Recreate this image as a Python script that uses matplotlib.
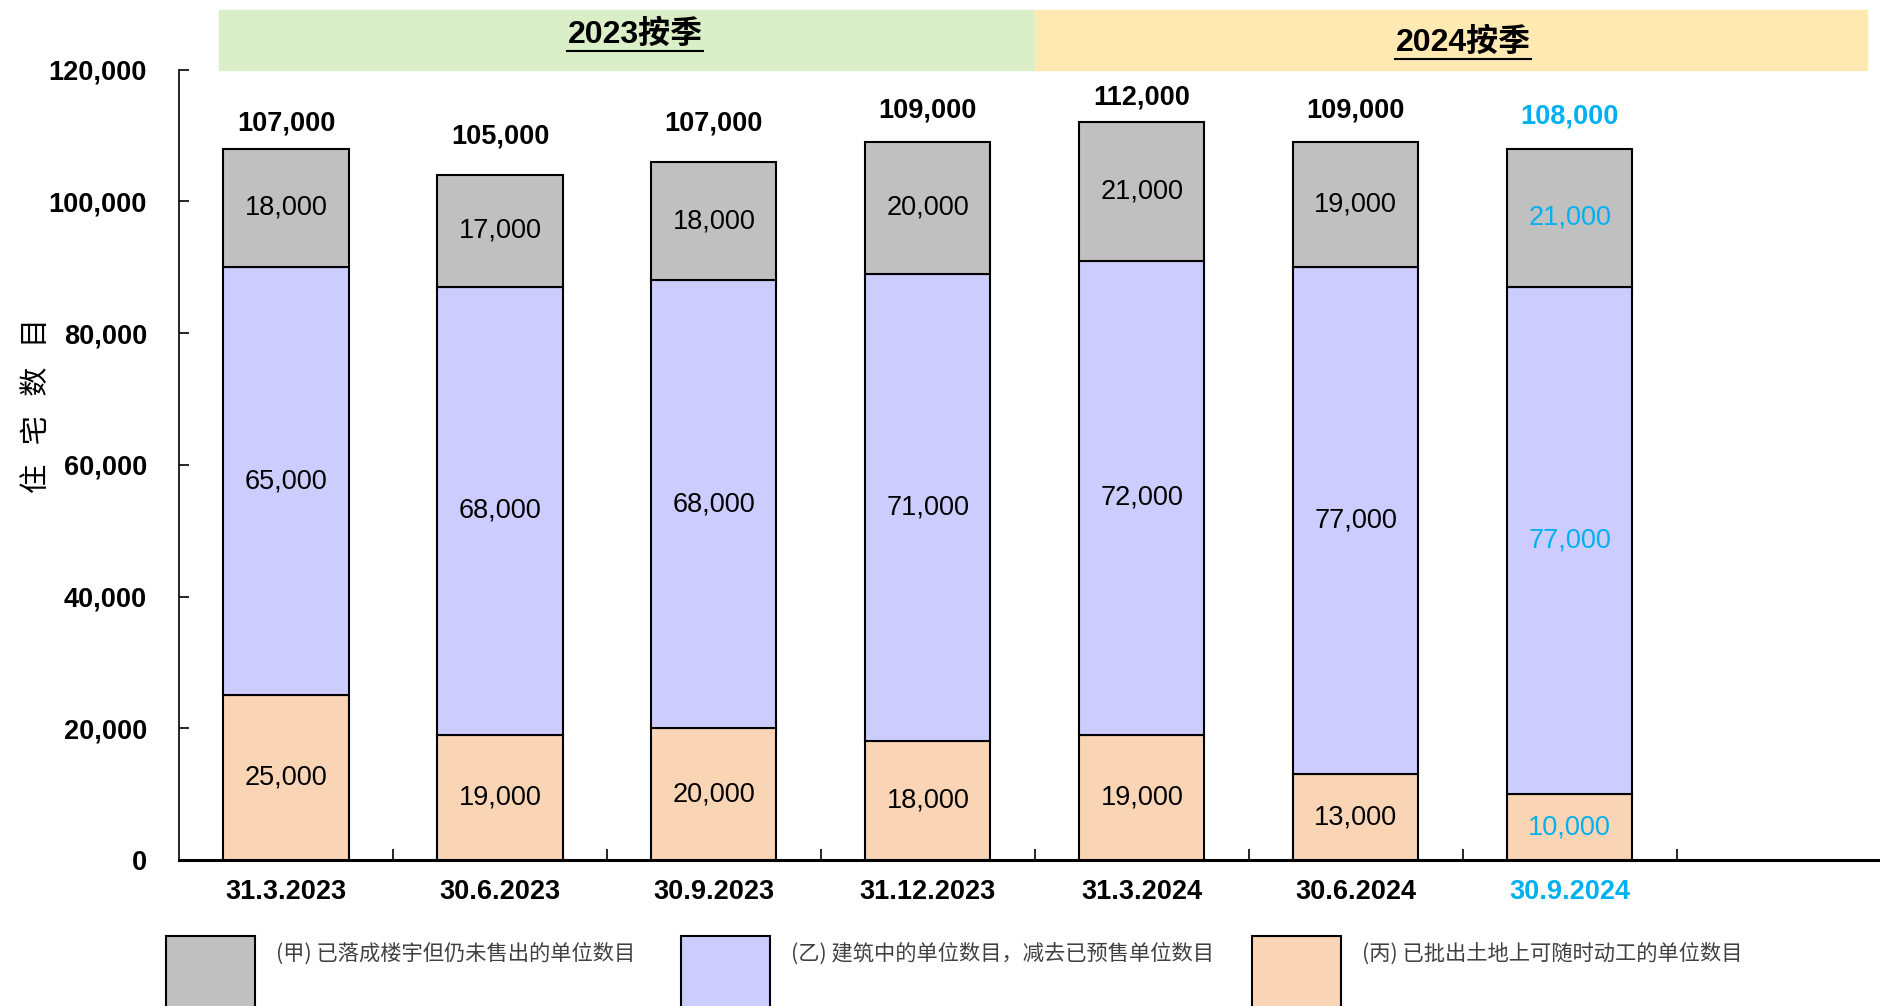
import matplotlib
matplotlib.use("Agg")
import matplotlib.pyplot as plt
from matplotlib.patches import Rectangle
from matplotlib.lines import Line2D
import numpy as np

# --- data ---
dates = ["31.3.2023", "30.6.2023", "30.9.2023", "31.12.2023",
         "31.3.2024", "30.6.2024", "30.9.2024"]
unsold   = [18000, 17000, 18000, 20000, 21000, 19000, 21000]   # (甲)
building = [65000, 68000, 68000, 71000, 72000, 77000, 77000]   # (乙)
land     = [25000, 19000, 20000, 18000, 19000, 13000, 10000]   # (丙)
totals   = [107000, 105000, 107000, 109000, 112000, 109000, 108000]
legend_labels = ["(甲) 已落成楼宇但仍未售出的单位数目",
                 "(乙) 建筑中的单位数目，减去已预售单位数目",
                 "(丙) 已批出土地上可随时动工的单位数目"]
periods = ["2023按季", "2024按季"]

C_GRAY, C_PURP, C_PEACH = "#C0C0C0", "#CCCCFF", "#F9D5B6"
BLUE = "#00B0F0"
LATIN = ["Liberation Sans", "Noto Sans CJK SC"]
CJK = ["Noto Sans CJK SC", "DejaVu Sans"]
FS = 19.5

W, H = 1880, 1006
fig = plt.figure(figsize=(W / 100, H / 100), dpi=100)
ax = fig.add_axes([179 / W, 1 - 860 / H, (W - 179) / W, (860 - 69.5) / H])

x = np.arange(len(dates))
bw = 0.585
land_a, build_a, unsold_a = map(np.array, (land, building, unsold))
kw = dict(width=bw, edgecolor="black", linewidth=1.5, zorder=3)
ax.bar(x, land_a, color=C_PEACH, **kw)
ax.bar(x, build_a, bottom=land_a, color=C_PURP, **kw)
ax.bar(x, unsold_a, bottom=land_a + build_a, color=C_GRAY, **kw)

# segment labels + totals
for i in x:
    col = BLUE if i == len(dates) - 1 else "black"
    for bottom, h in [(0, land_a[i]), (land_a[i], build_a[i]),
                      (land_a[i] + build_a[i], unsold_a[i])]:
        ax.text(i, bottom + h / 2, f"{h:,}", ha="center", va="center",
                fontsize=FS, color=col, family=LATIN, zorder=4)
    ax.text(i, min(totals[i] + 4800, 115700), f"{totals[i]:,}", ha="center",
            va="center", fontsize=FS, fontweight="bold", color=col,
            family=LATIN, clip_on=False)

ax.set_xlim(-0.5, 7.45)
ax.set_ylim(0, 120000)
ax.set_yticks(np.arange(0, 120001, 20000))
ax.set_yticklabels([f"{v:,}" for v in range(0, 120001, 20000)],
                   fontsize=FS, fontweight="bold", family=LATIN)
ax.tick_params(axis="y", direction="in", length=7, width=1.2, pad=23)
ax.set_xticks(np.arange(0.5, 7, 1))
ax.set_xticklabels([])
ax.tick_params(axis="x", which="major", direction="in", length=8, width=1.2)
ax.set_xticks(x, minor=True)
ax.set_xticklabels(dates, minor=True, fontsize=FS, fontweight="bold",
                   family=LATIN)
ax.tick_params(axis="x", which="minor", length=0, pad=14)
ax.get_xticklabels(minor=True)[-1].set_color(BLUE)
for s in ["top", "right"]:
    ax.spines[s].set_visible(False)
ax.spines["left"].set_linewidth(1.2)
ax.spines["bottom"].set_linewidth(2.2)

fig.text(37 / W, 1 - 406 / H, "住   宅   数   目", rotation=90, ha="center",
         va="center", fontsize=21, family=CJK)

# header bands
bands = [(219, 1035, "#DAEEC8"), (1035, 1867, "#FFE9B3")]
for x0, x1, c in bands:
    fig.patches.append(Rectangle((x0 / W, 1 - 70 / H), (x1 - x0) / W, 60 / H,
                                 transform=fig.transFigure, color=c, zorder=0))
hdr = []
for (cx, cy), t in zip([(635, 35), (1463, 43)], periods):
    hdr.append(fig.text(cx / W, 1 - cy / H, t, ha="center", va="center",
                        fontsize=23, fontweight="bold", family=LATIN))

# legend (drawn manually)
leg = [(166, 276, C_GRAY), (681, 791, C_PURP), (1252, 1362, C_PEACH)]
for (px, tx, c), lab in zip(leg, legend_labels):
    fig.patches.append(Rectangle((px / W, -0.05), 89 / W, (1006 - 936) / H + 0.05,
                                 transform=fig.transFigure, facecolor=c,
                                 edgecolor="black", linewidth=1.5))
    fig.text(tx / W, 1 - 954 / H, lab, ha="left", va="center", fontsize=15.3,
             color="#404040", family=CJK)

# underline headers
fig.canvas.draw()
r = fig.canvas.get_renderer()
for t in hdr:
    bb = t.get_window_extent(r)
    y = (bb.y0 - 1) / H
    fig.lines.append(Line2D([bb.x0 / W, bb.x1 / W], [y, y],
                            transform=fig.transFigure, color="black", lw=1.5))

fig.savefig("out.png", dpi=100)
